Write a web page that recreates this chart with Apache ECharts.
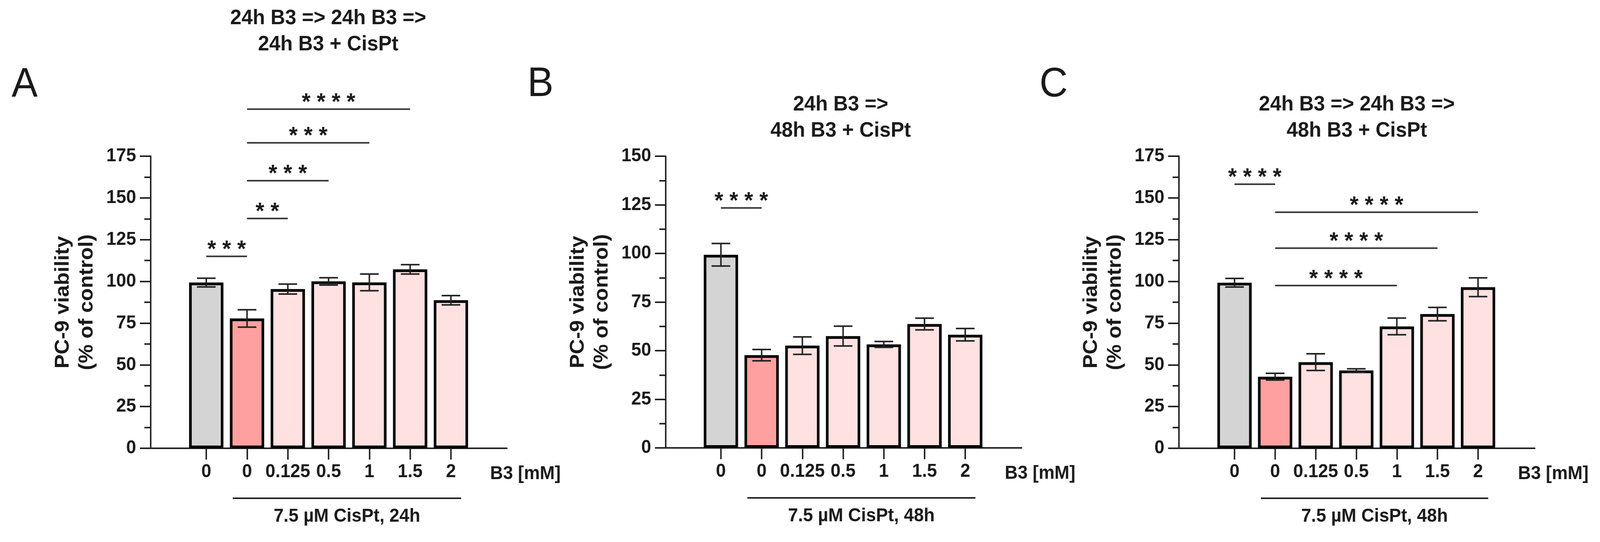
<!DOCTYPE html>
<html>
<head>
<meta charset="utf-8">
<title>PC-9 viability after B3 / CisPt</title>
<script src="https://cdn.jsdelivr.net/npm/echarts@6/dist/echarts.min.js"></script>
<style>
  html, body { margin: 0; padding: 0; background: #fff; overflow: hidden; }
  #chart { width: 4290px; height: 1388px; transform-origin: 0 0; }
</style>
</head>
<body>
<div id="chart"></div>
<script>
// Data shared by all panels
const doses = ['0', '0', '0.125', '0.5', '1', '1.5', '2'];
const barColors = ['#d4d4d4', '#ffa0a0', '#ffe1e1', '#ffe1e1', '#ffe1e1', '#ffe1e1', '#ffe1e1'];

// Panel A: 24h B3 => 24h B3 => 24h B3 + CisPt
const meanA = [99.3, 77.8, 95.4, 100.0, 99.4, 107.2, 88.7];
const errA = [2.6, 5.2, 3.0, 2.2, 5.0, 2.8, 2.8];
// [from bar, to bar, height, stars]
const sigA = [[0, 1, 115, '* * *'], [1, 2, 137.7, '* *'], [1, 3, 160.3, '* * *'], [1, 4, 183, '* * *'], [1, 5, 203.2, '* * * *']];

// Panel B: 24h B3 => 48h B3 + CisPt
const meanB = [99.3, 47.7, 52.6, 57.5, 53.2, 63.7, 58.2];
const errB = [5.8, 2.9, 4.5, 5.1, 1.5, 3.0, 3.2];
const sigB = [[0, 1, 123.4, '* * * *']];

// Panel C: 24h B3 => 24h B3 => 48h B3 + CisPt
const meanC = [99.2, 42.9, 51.6, 46.6, 73.0, 80.4, 96.5];
const errC = [2.6, 2.0, 5.0, 1.0, 5.0, 4.0, 5.6];
const sigC = [[0, 1, 158.2, '* * * *'], [1, 6, 141.4, '* * * *'], [1, 5, 119.9, '* * * *'], [1, 4, 97.5, '* * * *']];

const FONT = '"Liberation Sans", Arial, sans-serif';
const INK = '#1a1a1a';

// Layout of each panel (pixels / axis units), drawn on a 4290x1388 board
const panels = [
  {
    letter: 'A', title: '24h B3 => 24h B3 =>\n24h B3 + CisPt', treat: '7.5 µM CisPt, 24h',
    mean: meanA, err: errA, sig: sigA, yMax: 175,
    grid: { left: 404, top: 400, width: 955, height: 748 }, xMin: -1.363, xMax: 7.372,
    titleX: 880, titleTop: 14, letterX: 31, letterTop: 166
  },
  {
    letter: 'B', title: '24h B3 =>\n48h B3 + CisPt', treat: '7.5 µM CisPt, 48h',
    mean: meanB, err: errB, sig: sigB, yMax: 150,
    grid: { left: 1785, top: 400, width: 954, height: 747 }, xMin: -1.355, xMax: 7.383,
    titleX: 2254, titleTop: 235, letterX: 1414, letterTop: 165
  },
  {
    letter: 'C', title: '24h B3 => 24h B3 =>\n48h B3 + CisPt', treat: '7.5 µM CisPt, 48h',
    mean: meanC, err: errC, sig: sigC, yMax: 175,
    grid: { left: 3161, top: 400, width: 954, height: 748 }, xMin: -1.37, xMax: 7.398,
    titleX: 3638, titleTop: 235, letterX: 2787, letterTop: 166
  }
];

const axisLineStyle = { color: '#222', width: 4 };
const barIdx = doses.map((d, i) => i);

// the viewport may be smaller than the 4290x1388 board: stretch the board onto it
const box = document.getElementById('chart');
const sx = window.innerWidth / 4290;
const sy = window.innerHeight / 1388;
if (Math.abs(sx - 1) > 0.002 || Math.abs(sy - 1) > 0.002) {
  box.style.transform = `scale(${sx}, ${sy})`;
}

const option = {
  animation: false,
  backgroundColor: '#fff',
  title: [],
  grid: [],
  xAxis: [],
  yAxis: [],
  series: []
};

panels.forEach((p, i) => {
  option.title.push({
    text: p.title, left: p.titleX, top: p.titleTop, textAlign: 'center', padding: 0,
    textStyle: { fontFamily: FONT, fontSize: 54, fontWeight: 'bold', lineHeight: 67, color: INK }
  });
  option.title.push({
    text: p.letter, left: p.letterX, top: p.letterTop, padding: 0,
    textStyle: { fontFamily: FONT, fontSize: 105, fontWeight: 'normal', lineHeight: 105, color: INK }
  });

  option.grid.push(Object.assign({ containLabel: false }, p.grid));

  option.xAxis.push({
    type: 'value', gridIndex: i, min: p.xMin, max: p.xMax,
    axisLine: { show: true, onZero: false, lineStyle: axisLineStyle },
    axisTick: { show: true, customValues: barIdx, length: 29, lineStyle: axisLineStyle },
    axisLabel: {
      customValues: barIdx, margin: 37, formatter: v => doses[Math.round(v)],
      fontFamily: FONT, fontSize: 48, fontWeight: 'bold', lineHeight: 48, color: INK
    },
    splitLine: { show: false }
  });

  option.yAxis.push({
    type: 'value', gridIndex: i, min: 0, max: p.yMax, interval: 25,
    axisLine: { show: true, onZero: false, lineStyle: axisLineStyle },
    axisTick: { show: true, length: 29, lineStyle: axisLineStyle },
    minorTick: { show: true, splitNumber: 2, length: 17, lineStyle: axisLineStyle },
    splitLine: { show: false },
    minorSplitLine: { show: false },
    axisLabel: { margin: 39, fontFamily: FONT, fontSize: 48, fontWeight: 'bold', color: INK },
    name: 'PC-9 viability\n(% of control)', nameLocation: 'middle', nameGap: 139,
    nameTextStyle: { fontFamily: FONT, fontSize: 54, fontWeight: 'bold', lineHeight: 64, color: INK }
  });

  // bars
  option.series.push({
    type: 'bar', xAxisIndex: i, yAxisIndex: i, barWidth: 92, z: 2,
    data: p.mean.map((v, j) => [j, v]),
    itemStyle: { color: params => barColors[params.dataIndex], borderColor: '#000', borderWidth: 7 }
  });

  // error bars (mean ± err)
  option.series.push({
    type: 'custom', xAxisIndex: i, yAxisIndex: i, z: 3, clip: false,
    data: p.mean.map((v, j) => [j, v, p.err[j]]),
    encode: { x: 0, y: 1 },
    renderItem: (params, api) => {
      const x = api.value(0), m = api.value(1), e = api.value(2);
      const hi = api.coord([x, m + e]);
      const lo = api.coord([x, m - e]);
      const half = 25;
      const style = { stroke: '#222', lineWidth: 4 };
      return {
        type: 'group',
        children: [
          { type: 'line', shape: { x1: hi[0], y1: hi[1], x2: lo[0], y2: lo[1] }, style },
          { type: 'line', shape: { x1: hi[0] - half, y1: hi[1], x2: hi[0] + half, y2: hi[1] }, style },
          { type: 'line', shape: { x1: lo[0] - half, y1: lo[1], x2: lo[0] + half, y2: lo[1] }, style }
        ]
      };
    }
  });

  // significance lines with stars
  option.series.push({
    type: 'custom', xAxisIndex: i, yAxisIndex: i, z: 4, clip: false,
    data: p.sig.map(s => [s[0], s[2], s[1]]),
    encode: { x: [0, 2], y: 1 },
    renderItem: (params, api) => {
      const a = api.coord([api.value(0), api.value(1)]);
      const b = api.coord([api.value(2), api.value(1)]);
      return {
        type: 'group',
        children: [
          { type: 'line', shape: { x1: a[0], y1: a[1], x2: b[0], y2: b[1] }, style: { stroke: '#333', lineWidth: 4 } },
          {
            type: 'text', x: (a[0] + b[0]) / 2, y: a[1] - 16,
            style: {
              text: p.sig[params.dataIndex][3], align: 'center', verticalAlign: 'middle',
              fontFamily: FONT, fontSize: 60, fontWeight: 'bold', fill: INK
            }
          }
        ]
      };
    }
  });

  // treatment bracket and axis caption under the x axis
  option.series.push({
    type: 'custom', xAxisIndex: i, yAxisIndex: i, z: 4, clip: false,
    data: [[0.65, 0, 6.25]],
    encode: { x: [0, 2], y: 1 },
    renderItem: (params, api) => {
      const a = api.coord([api.value(0), 0]);
      const b = api.coord([api.value(2), 0]);
      const end = api.coord([p.xMax, 0]);
      const txt = (text, x, y, align) => ({
        type: 'text', x, y,
        style: {
          text, align, verticalAlign: 'middle',
          fontFamily: FONT, fontSize: 48, fontWeight: 'bold', fill: INK
        }
      });
      return {
        type: 'group',
        children: [
          { type: 'line', shape: { x1: a[0], y1: a[1] + 128, x2: b[0], y2: a[1] + 128 }, style: { stroke: '#222', lineWidth: 4 } },
          txt(p.treat, (a[0] + b[0]) / 2, a[1] + 175, 'center'),
          txt('B3 [mM]', end[0] - 45, a[1] + 66, 'left')
        ]
      };
    }
  });
});

const chart = echarts.init(box, null, { renderer: 'canvas' });
chart.setOption(option);
</script>
</body>
</html>
